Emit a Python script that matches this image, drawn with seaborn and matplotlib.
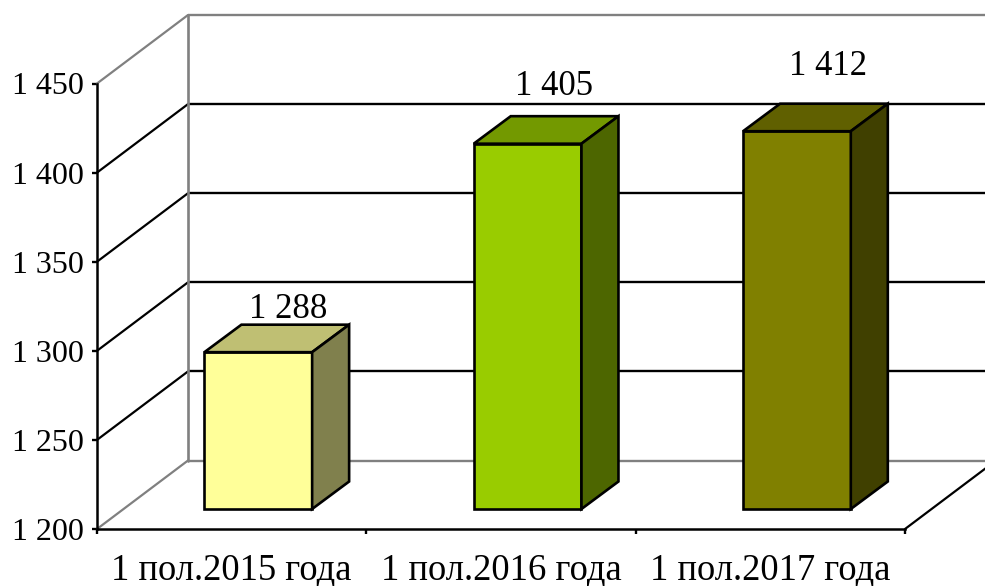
import matplotlib
matplotlib.use('Agg')
import matplotlib.pyplot as plt
import matplotlib.transforms as mtrans
from matplotlib.colors import to_rgb
from matplotlib.patches import Polygon
import numpy as np
import pandas as pd
import seaborn as sns

categories = ["1 пол.2015 года", "1 пол.2016 года", "1 пол.2017 года"]
values = [1288, 1405, 1412]
value_labels = ["1 288", "1 405", "1 412"]
bar_colors = ["#FFFF99", "#99CC00", "#808000"]
y_ticks = [1200, 1250, 1300, 1350, 1400, 1450]
y_tick_labels = ["1 200", "1 250", "1 300", "1 350", "1 400", "1 450"]

DPI = 100
W, H = 985, 586
LEFT, RIGHT, TOP, BOTTOM = 97, 905, 83.5, 529  # front plane, px
WALL_DX, WALL_DY = 91, 68.5                    # front plane to back wall, px
BAR_DX, BAR_DY = 26.6, 20                      # front plane to bar front, px
DEPTH_DX, DEPTH_DY = 37, 27.5                  # bar depth, px
LABEL_SHIFT = [(30, 34), (26, 49), (31, 56)]   # from top of bar front, px

sns.set_theme(style="white")
plt.rcParams['font.family'] = ['Liberation Serif', 'DejaVu Serif']

df = pd.DataFrame({"period": categories, "value": values})

fig = plt.figure(figsize=(W / DPI, H / DPI), dpi=DPI, facecolor="white")
ax = fig.add_axes([LEFT / W, 1 - BOTTOM / H, (RIGHT - LEFT) / W, (BOTTOM - TOP) / H])

sns.barplot(data=df, x="period", y="value", hue="period", palette=bar_colors,
            saturation=1, width=0.4, edgecolor="black", linewidth=1.9,
            legend=False, ax=ax, zorder=3)
ax.set_xlim(-0.5, len(categories) - 0.5)
ax.set_ylim(y_ticks[0], y_ticks[-1])
ax.set_xlabel("")
ax.set_ylabel("")
ax.patch.set_visible(False)


def shifted(dx, dy):
    return ax.transData + mtrans.ScaledTranslation(dx / DPI, dy / DPI, fig.dpi_scale_trans)


# back wall, floor and the diagonals joining them to the front plane
wall = shifted(WALL_DX, WALL_DY)
x0, x1 = ax.get_xlim()
units_x = (x1 - x0) / (RIGHT - LEFT)
units_y = (y_ticks[-1] - y_ticks[0]) / (BOTTOM - TOP)
for t in y_ticks:
    is_edge = t in (y_ticks[0], y_ticks[-1])
    color = "#808080" if is_edge else "black"
    ax.plot([x0, x1], [t, t], color=color, lw=1.7, transform=wall, clip_on=False, zorder=1,
            solid_capstyle="butt")
    ax.plot([x0, x0 + WALL_DX * units_x], [t, t + WALL_DY * units_y], color=color, lw=1.6,
            clip_on=False, zorder=1)
ax.plot([x0, x0], [y_ticks[0], y_ticks[-1]], color="#808080", lw=1.9, transform=wall,
        clip_on=False, zorder=1.5)
ax.plot([x1, x1 + WALL_DX * units_x], [y_ticks[0], y_ticks[0] + WALL_DY * units_y],
        color="black", lw=1.6, clip_on=False, zorder=1)

# bars: seaborn draws the fronts, top and side faces are built from the same values
front = shifted(BAR_DX, BAR_DY)
dx = DEPTH_DX * units_x
dy = DEPTH_DY * units_y
for bar, val, base_color, label, shift in zip(ax.patches, values, bar_colors, value_labels, LABEL_SHIFT):
    bar.set_y(y_ticks[0])
    bar.set_height(val - y_ticks[0])
    bar.set_transform(front)
    bar.set_clip_on(False)
    bar.set_joinstyle("miter")
    xl = bar.get_x()
    xr = xl + bar.get_width()
    rgb = np.array(to_rgb(base_color))
    top_face = [(xl, val), (xr, val), (xr + dx, val + dy), (xl + dx, val + dy)]
    side_face = [(xr, y_ticks[0]), (xr, val), (xr + dx, val + dy), (xr + dx, y_ticks[0] + dy)]
    for verts, shade in ((top_face, 0.75), (side_face, 0.5)):
        ax.add_patch(Polygon(verts, closed=True, facecolor=rgb * shade, edgecolor="black",
                             linewidth=1.9, transform=front, clip_on=False, zorder=3,
                             joinstyle="miter"))
    ax.annotate(label, xy=((xl + xr) / 2, val), xycoords=front, xytext=(shift[0] * 72 / DPI, shift[1] * 72 / DPI),
                textcoords="offset points", ha="center", va="baseline", fontsize=25, color="black",
                annotation_clip=False)

sns.despine(ax=ax)
for side in ("left", "bottom"):
    ax.spines[side].set_linewidth(1.8)
    ax.spines[side].set_color("black")
    ax.spines[side].set_zorder(2)

ax.set_yticks(y_ticks)
ax.set_yticklabels(y_tick_labels)
ax.tick_params(axis="y", which="major", left=True, direction="out", length=3.8, width=1.7,
               color="black", labelsize=23, labelcolor="black", pad=5.5)
ax.set_xticks(np.arange(len(categories) + 1) - 0.5)
ax.set_xticklabels([])
ax.set_xticks(np.arange(len(categories)), minor=True)
ax.set_xticklabels(categories, minor=True)
ax.tick_params(axis="x", which="major", bottom=True, direction="out", length=3.8, width=1.7, color="black")
ax.tick_params(axis="x", which="minor", bottom=False, length=0, labelsize=26.3, labelcolor="black", pad=17)

fig.savefig("out.png", dpi=DPI)
plt.close(fig)
